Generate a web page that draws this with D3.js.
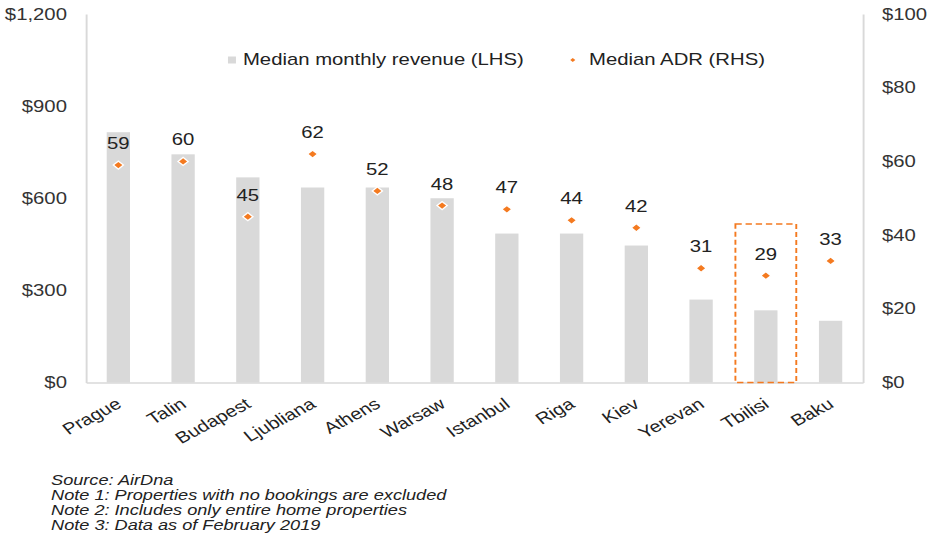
<!DOCTYPE html>
<meta charset="utf-8">
<script src="https://d3js.org/d3.v7.min.js"></script>
<style>
  body { margin: 0; background: #fff; }
  #chart text { font-family: "Liberation Sans", Arial, sans-serif; }
</style>
<div id="chart"></div>
<script>
// data
var cities  = ["Prague", "Talin", "Budapest", "Ljubliana", "Athens", "Warsaw", "Istanbul", "Riga", "Kiev", "Yerevan", "Tbilisi", "Baku"];
var revenue = [815, 743, 668, 635, 635, 600, 485, 485, 446, 270, 235, 201];
var adr     = [59, 60, 45, 62, 52, 48, 47, 44, 42, 31, 29, 33];
var leftTicks  = [0, 300, 600, 900, 1200];
var rightTicks = [0, 20, 40, 60, 80, 100];
var highlight = ["Tbilisi"];
var highlightTop = [43]; // RHS value for top of dashed box
var notes = ["Source: AirDna",
             "Note 1: Properties with no bookings are excluded",
             "Note 2: Includes only entire home properties",
             "Note 3: Data as of February 2019"];

// the reference is stretched horizontally, so draw in a narrower box and stretch it
var sx = 1.27;
var outW = 927, outH = 538;
var W = outW / sx;

var margin = { top: 14, right: W - 679.5, bottom: outH - 382.5, left: 67.7 };
var width = W - margin.left - margin.right,
    height = outH - margin.top - margin.bottom;

var orange = "#f47a20", grey = "#d9d9d9", ink = "#222";

var svg = d3.select("#chart").append("svg")
    .attr("width", outW)
    .attr("height", outH)
    .attr("viewBox", "0 0 " + W + " " + outH)
    .attr("preserveAspectRatio", "none");

var g = svg.append("g")
    .attr("transform", "translate(" + margin.left + "," + margin.top + ")");

var x = d3.scaleBand().domain(cities).range([0, width]).paddingInner(0.64).paddingOuter(0.32);
var yL = d3.scaleLinear().domain([0, 1200]).range([height, 0]);
var yR = d3.scaleLinear().domain([0, 100]).range([height, 0]);
var cx = function(c) { return x(c) + x.bandwidth() / 2; };

var rows = cities.map(function(c, i) { return { city: c, rev: revenue[i], adr: adr[i] }; });

// bars
g.selectAll(".bar").data(rows).enter().append("rect")
    .attr("class", "bar")
    .attr("x", function(d) { return x(d.city); })
    .attr("width", x.bandwidth())
    .attr("y", function(d) { return yL(d.rev); })
    .attr("height", function(d) { return height - yL(d.rev); })
    .attr("fill", grey);

// axes
var axL = g.append("g")
    .call(d3.axisLeft(yL).tickValues(leftTicks).tickSize(0).tickPadding(15)
      .tickFormat(function(d) { return "$" + d3.format(",")(d); }));
var axR = g.append("g")
    .attr("transform", "translate(" + width + ",0)")
    .call(d3.axisRight(yR).tickValues(rightTicks).tickSize(0).tickPadding(15)
      .tickFormat(function(d) { return "$" + d; }));
var axB = g.append("g")
    .attr("transform", "translate(0," + height + ")")
    .call(d3.axisBottom(x).tickSize(0).tickFormat(""));

[axL, axR, axB].forEach(function(a) {
  a.select(".domain").attr("stroke", grey).attr("stroke-width", 1.5);
  a.selectAll("text").attr("font-size", 16).attr("fill", "#333");
});

// category labels, rotated
g.selectAll(".cat").data(cities).enter().append("text")
    .attr("class", "cat")
    .attr("transform", function(c) { return "translate(" + (cx(c) + 3.5) + "," + (height + 24) + ") rotate(-34)"; })
    .attr("text-anchor", "end")
    .attr("font-size", 16)
    .attr("fill", ink)
    .text(function(c) { return c; });

// dashed highlight box
g.selectAll(".hl").data(highlight).enter().append("rect")
    .attr("class", "hl")
    .attr("x", function(c) { return cx(c) - x.step() * 0.47; })
    .attr("width", x.step() * 0.94)
    .attr("y", function(c, i) { return yR(highlightTop[i]); })
    .attr("height", function(c, i) { return height - yR(highlightTop[i]); })
    .attr("fill", "none")
    .attr("stroke", orange)
    .attr("stroke-width", 1.5)
    .attr("stroke-dasharray", "5,3");

// ADR markers
var diamond = d3.symbol(d3.symbolSquare, 32);
g.selectAll(".pt").data(rows).enter().append("path")
    .attr("class", "pt")
    .attr("d", diamond)
    .attr("transform", function(d) { return "translate(" + cx(d.city) + "," + yR(d.adr) + ") rotate(45)"; })
    .attr("fill", orange)
    .attr("stroke", "#fff")
    .attr("stroke-width", 1.2);

g.selectAll(".lbl").data(rows).enter().append("text")
    .attr("class", "lbl")
    .attr("x", function(d) { return cx(d.city); })
    .attr("y", function(d) { return yR(d.adr) - 16; })
    .attr("text-anchor", "middle")
    .attr("font-size", 16)
    .attr("fill", ink)
    .text(function(d) { return d.adr; });

// legend
var leg = svg.append("g");
leg.append("rect")
    .attr("x", 179.5).attr("y", 56.5).attr("width", 6.3).attr("height", 7)
    .attr("fill", grey);
leg.append("text")
    .attr("x", 191.3).attr("y", 65.5)
    .attr("font-size", 16).attr("fill", ink)
    .text("Median monthly revenue (LHS)");
leg.append("path")
    .attr("d", d3.symbol(d3.symbolSquare, 8))
    .attr("transform", "translate(451,60) rotate(45)")
    .attr("fill", orange);
leg.append("text")
    .attr("x", 463.8).attr("y", 65.5)
    .attr("font-size", 16).attr("fill", ink)
    .text("Median ADR (RHS)");

// notes
svg.append("g").selectAll("text").data(notes).enter().append("text")
    .attr("x", 40.2)
    .attr("y", function(d, i) { return 485 + i * 15; })
    .attr("font-size", 14.3)
    .attr("font-style", "italic")
    .attr("fill", ink)
    .text(function(d) { return d; });
</script>
